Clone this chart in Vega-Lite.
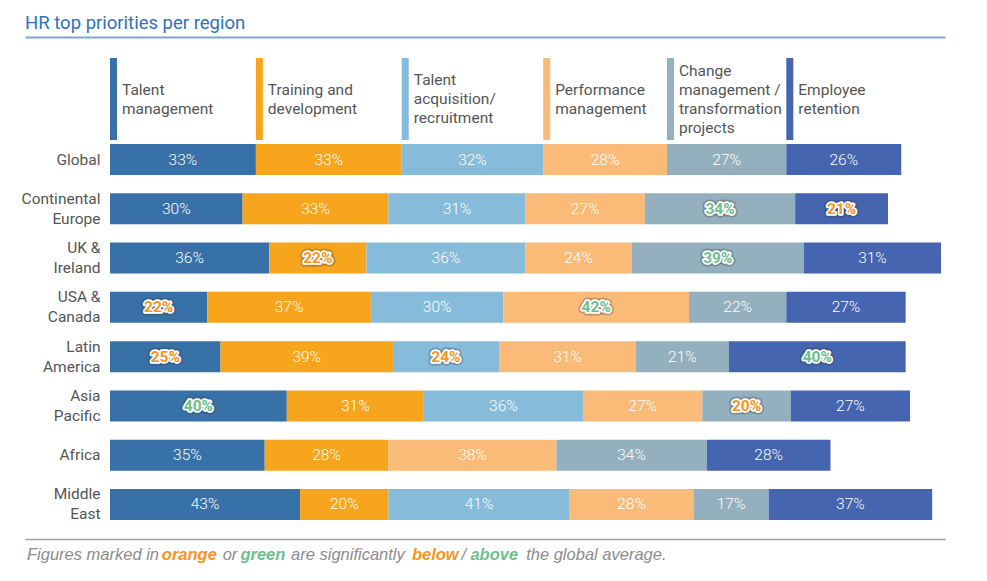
{
  "$schema": "https://vega.github.io/schema/vega-lite/v6.json",
  "background": "white",
  "padding": {"left": 21, "top": 13, "right": 46, "bottom": 0},
  "spacing": 4,
  "bounds": "flush",
  "resolve": {"scale": {"color": "independent", "x": "independent"}},
  "title": {
    "text": "HR top priorities per region",
    "anchor": "start",
    "frame": "bounds",
    "dx": 4,
    "fontSize": 18.5,
    "fontWeight": "normal",
    "color": "#2e72ba",
    "offset": 5
  },
  "datasets": {
    "main": [
      {"region": "Global", "priority": "Talent management", "value": 33, "sig": ""},
      {"region": "Global", "priority": "Training and development", "value": 33, "sig": ""},
      {"region": "Global", "priority": "Talent acquisition/recruitment", "value": 32, "sig": ""},
      {"region": "Global", "priority": "Performance management", "value": 28, "sig": ""},
      {"region": "Global", "priority": "Change management / transformation projects", "value": 27, "sig": ""},
      {"region": "Global", "priority": "Employee retention", "value": 26, "sig": ""},
      {"region": "Continental Europe", "priority": "Talent management", "value": 30, "sig": ""},
      {"region": "Continental Europe", "priority": "Training and development", "value": 33, "sig": ""},
      {"region": "Continental Europe", "priority": "Talent acquisition/recruitment", "value": 31, "sig": ""},
      {"region": "Continental Europe", "priority": "Performance management", "value": 27, "sig": ""},
      {"region": "Continental Europe", "priority": "Change management / transformation projects", "value": 34, "sig": "above"},
      {"region": "Continental Europe", "priority": "Employee retention", "value": 21, "sig": "below"},
      {"region": "UK & Ireland", "priority": "Talent management", "value": 36, "sig": ""},
      {"region": "UK & Ireland", "priority": "Training and development", "value": 22, "sig": "below"},
      {"region": "UK & Ireland", "priority": "Talent acquisition/recruitment", "value": 36, "sig": ""},
      {"region": "UK & Ireland", "priority": "Performance management", "value": 24, "sig": ""},
      {"region": "UK & Ireland", "priority": "Change management / transformation projects", "value": 39, "sig": "above"},
      {"region": "UK & Ireland", "priority": "Employee retention", "value": 31, "sig": ""},
      {"region": "USA & Canada", "priority": "Talent management", "value": 22, "sig": "below"},
      {"region": "USA & Canada", "priority": "Training and development", "value": 37, "sig": ""},
      {"region": "USA & Canada", "priority": "Talent acquisition/recruitment", "value": 30, "sig": ""},
      {"region": "USA & Canada", "priority": "Performance management", "value": 42, "sig": "above"},
      {"region": "USA & Canada", "priority": "Change management / transformation projects", "value": 22, "sig": ""},
      {"region": "USA & Canada", "priority": "Employee retention", "value": 27, "sig": ""},
      {"region": "Latin America", "priority": "Talent management", "value": 25, "sig": "below"},
      {"region": "Latin America", "priority": "Training and development", "value": 39, "sig": ""},
      {"region": "Latin America", "priority": "Talent acquisition/recruitment", "value": 24, "sig": "below"},
      {"region": "Latin America", "priority": "Performance management", "value": 31, "sig": ""},
      {"region": "Latin America", "priority": "Change management / transformation projects", "value": 21, "sig": ""},
      {"region": "Latin America", "priority": "Employee retention", "value": 40, "sig": "above"},
      {"region": "Asia Pacific", "priority": "Talent management", "value": 40, "sig": "above"},
      {"region": "Asia Pacific", "priority": "Training and development", "value": 31, "sig": ""},
      {"region": "Asia Pacific", "priority": "Talent acquisition/recruitment", "value": 36, "sig": ""},
      {"region": "Asia Pacific", "priority": "Performance management", "value": 27, "sig": ""},
      {"region": "Asia Pacific", "priority": "Change management / transformation projects", "value": 20, "sig": "below"},
      {"region": "Asia Pacific", "priority": "Employee retention", "value": 27, "sig": ""},
      {"region": "Africa", "priority": "Talent management", "value": 35, "sig": ""},
      {"region": "Africa", "priority": "Training and development", "value": 28, "sig": ""},
      {"region": "Africa", "priority": "Performance management", "value": 38, "sig": ""},
      {"region": "Africa", "priority": "Change management / transformation projects", "value": 34, "sig": ""},
      {"region": "Africa", "priority": "Employee retention", "value": 28, "sig": ""},
      {"region": "Middle East", "priority": "Talent management", "value": 43, "sig": ""},
      {"region": "Middle East", "priority": "Training and development", "value": 20, "sig": ""},
      {"region": "Middle East", "priority": "Talent acquisition/recruitment", "value": 41, "sig": ""},
      {"region": "Middle East", "priority": "Performance management", "value": 28, "sig": ""},
      {"region": "Middle East", "priority": "Change management / transformation projects", "value": 17, "sig": ""},
      {"region": "Middle East", "priority": "Employee retention", "value": 37, "sig": ""}
    ],
    "legend": [
      {"priority": "Talent management", "label": "Talent\nmanagement"},
      {"priority": "Training and development", "label": "Training and\ndevelopment"},
      {"priority": "Talent acquisition/recruitment", "label": "Talent\nacquisition/\nrecruitment"},
      {"priority": "Performance management", "label": "Performance\nmanagement"},
      {"priority": "Change management / transformation projects", "label": "Change\nmanagement /\ntransformation\nprojects"},
      {"priority": "Employee retention", "label": "Employee\nretention"}
    ],
    "footer": [
      {"seg": "Figures marked in ", "tone": "plain"},
      {"seg": "orange", "tone": "below"},
      {"seg": " or ", "tone": "plain"},
      {"seg": "green", "tone": "above"},
      {"seg": " are significantly ", "tone": "plain"},
      {"seg": "below", "tone": "below"},
      {"seg": "/", "tone": "plain"},
      {"seg": "above", "tone": "above"},
      {"seg": " the global average.", "tone": "plain"}
    ]
  },
  "vconcat": [
    {
      "width": 920,
      "height": 82,
      "data": {"name": "main"},
      "transform": [
        {"filter": "datum.region == 'Global'"},
        {"calculate": "indexof(['Talent management','Training and development','Talent acquisition/recruitment','Performance management','Change management / transformation projects','Employee retention'], datum.priority)", "as": "k"},
        {"stack": "value", "groupby": ["region"], "sort": [{"field": "k", "order": "ascending"}], "as": ["x0", "x1"]},
        {"lookup": "priority", "from": {"data": {"name": "legend"}, "key": "priority", "fields": ["label"]}},
        {"calculate": "(length(split(datum.label, '\\n')) - 1) / 2", "as": "ly"}
      ],
      "layer": [
        {
          "mark": {"type": "rule", "strokeWidth": 7, "xOffset": 3.5},
          "encoding": {
            "x": {
              "field": "x0", "type": "quantitative",
              "scale": {"domain": [-19.23, 188.9], "nice": false, "zero": false},
              "axis": {"orient": "top", "offset": 21, "domain": true, "domainColor": "#7ba6d6", "domainWidth": 2, "ticks": false, "labels": false, "grid": false, "title": null}
            },
            "color": {
              "field": "priority", "type": "nominal",
              "scale": {
                "domain": ["Talent management", "Training and development", "Talent acquisition/recruitment", "Performance management", "Change management / transformation projects", "Employee retention"],
                "range": ["#3871a8", "#f7a51c", "#87bbda", "#fbbb78", "#94afbd", "#4565b0"]
              },
              "legend": null
            }
          }
        },
        {
          "mark": {"type": "text", "align": "left", "baseline": "middle", "dx": 12, "fontSize": 15.5, "lineHeight": 19, "lineBreak": "\n", "color": "#555555"},
          "encoding": {
            "x": {"field": "x0", "type": "quantitative"},
            "y": {"field": "ly", "type": "quantitative", "scale": {"domain": [-2.1579, 2.1579], "nice": false, "zero": false}, "axis": null},
            "text": {"field": "label"}
          }
        }
      ]
    },
    {
      "width": 920,
      "height": 376,
      "data": {"name": "main"},
      "transform": [
        {"calculate": "indexof(['Talent management','Training and development','Talent acquisition/recruitment','Performance management','Change management / transformation projects','Employee retention'], datum.priority)", "as": "k"},
        {"stack": "value", "groupby": ["region"], "sort": [{"field": "k", "order": "ascending"}], "as": ["x0", "x1"]},
        {"calculate": "(datum.x0 + datum.x1) / 2", "as": "mid"},
        {"calculate": "datum.value + '%'", "as": "label"}
      ],
      "encoding": {
        "y": {
          "field": "region", "type": "nominal",
          "sort": ["Global", "Continental Europe", "UK & Ireland", "USA & Canada", "Latin America", "Asia Pacific", "Africa", "Middle East"],
          "scale": {"paddingInner": 0.371, "paddingOuter": 0},
          "axis": {
            "title": null, "offset": -85, "domain": false, "ticks": false, "labelPadding": 10,
            "labelFontSize": 15.5, "labelColor": "#555555", "labelLineHeight": 20,
            "labelOffset": {"condition": {"test": "datum.value == 'Global' || datum.value == 'Africa'", "value": 0}, "value": -10},
            "labelExpr": "split(replace(datum.label, regexp(' (?!&)'), '|'), '|')"
          }
        }
      },
      "layer": [
        {
          "mark": {"type": "bar"},
          "encoding": {
            "x": {
              "field": "x0", "type": "quantitative",
              "scale": {"domain": [-19.23, 188.9], "nice": false, "zero": false},
              "axis": {"orient": "bottom", "offset": 19, "domain": true, "domainColor": "#a0a0a0", "domainWidth": 1.5, "ticks": false, "labels": false, "grid": false, "title": null}
            },
            "x2": {"field": "x1"},
            "color": {
              "field": "priority", "type": "nominal",
              "scale": {
                "domain": ["Talent management", "Training and development", "Talent acquisition/recruitment", "Performance management", "Change management / transformation projects", "Employee retention"],
                "range": ["#3871a8", "#f7a51c", "#87bbda", "#fbbb78", "#94afbd", "#4565b0"]
              },
              "legend": null
            }
          }
        },
        {
          "transform": [{"filter": "datum.sig == ''"}],
          "mark": {"type": "text", "color": "white", "fontSize": 15.5, "fontWeight": 300},
          "encoding": {"x": {"field": "mid", "type": "quantitative"}, "text": {"field": "label"}}
        },
        {
          "transform": [{"filter": "datum.sig != ''"}],
          "mark": {"type": "text", "fill": "#333333", "fillOpacity": 0.3, "stroke": "#333333", "strokeOpacity": 0.3, "strokeWidth": 7, "strokeJoin": "round", "fontSize": 15.5, "fontWeight": "bold"},
          "encoding": {"x": {"field": "mid", "type": "quantitative"}, "text": {"field": "label"}}
        },
        {
          "transform": [{"filter": "datum.sig != ''"}],
          "mark": {"type": "text", "fill": "white", "stroke": "white", "strokeWidth": 3.5, "strokeJoin": "round", "fontSize": 15.5, "fontWeight": "bold"},
          "encoding": {"x": {"field": "mid", "type": "quantitative"}, "text": {"field": "label"}}
        },
        {
          "transform": [{"filter": "datum.sig != ''"}],
          "mark": {"type": "text", "fontSize": 15.5, "fontWeight": "bold"},
          "encoding": {
            "x": {"field": "mid", "type": "quantitative"},
            "text": {"field": "label"},
            "color": {"condition": {"test": "datum.sig == 'below'", "value": "#f7941d"}, "value": "#6cc08b"}
          }
        }
      ]
    },
    {
      "width": 920,
      "height": 62,
      "data": {"name": "footer"},
      "transform": [
        {"calculate": "length(replace(datum.seg, regexp('[^ijlftrI .]', 'g'), ''))", "as": "nN"},
        {"calculate": "length(replace(datum.seg, regexp('[^mwMW]', 'g'), ''))", "as": "nW"},
        {"calculate": "16.5 * (datum.tone == 'plain' ? (0.27 * datum.nN + 0.83 * datum.nW + 0.545 * (length(datum.seg) - datum.nN - datum.nW)) : (0.31 * datum.nN + 0.83 * datum.nW + 0.62 * (length(datum.seg) - datum.nN - datum.nW)))", "as": "w"},
        {"window": [{"op": "sum", "field": "w", "as": "cum"}]},
        {"calculate": "datum.cum - datum.w + 2 + (indexof(datum.seg, ' ') == 0 ? 16.5 * 0.278 : 0)", "as": "xs"},
        {"calculate": "trim(datum.seg)", "as": "txt"}
      ],
      "encoding": {
        "x": {"field": "xs", "type": "quantitative", "scale": {"domain": [0, 920], "nice": false, "zero": false}, "axis": null},
        "text": {"field": "txt"},
        "color": {
          "field": "tone", "type": "nominal",
          "scale": {"domain": ["plain", "below", "above"], "range": ["#8c8c8c", "#f7941d", "#6cc08b"]},
          "legend": null
        }
      },
      "layer": [
        {
          "transform": [{"filter": "datum.tone == 'plain'"}],
          "mark": {"type": "text", "align": "left", "baseline": "middle", "font": "Liberation Sans", "fontStyle": "italic", "fontSize": 16.5}
        },
        {
          "transform": [{"filter": "datum.tone != 'plain'"}],
          "mark": {"type": "text", "align": "left", "baseline": "middle", "font": "Liberation Sans", "fontStyle": "italic", "fontWeight": "bold", "fontSize": 16.5}
        }
      ]
    }
  ],
  "config": {
    "view": {"stroke": null},
    "font": "Roboto, Liberation Sans, sans-serif"
  }
}
